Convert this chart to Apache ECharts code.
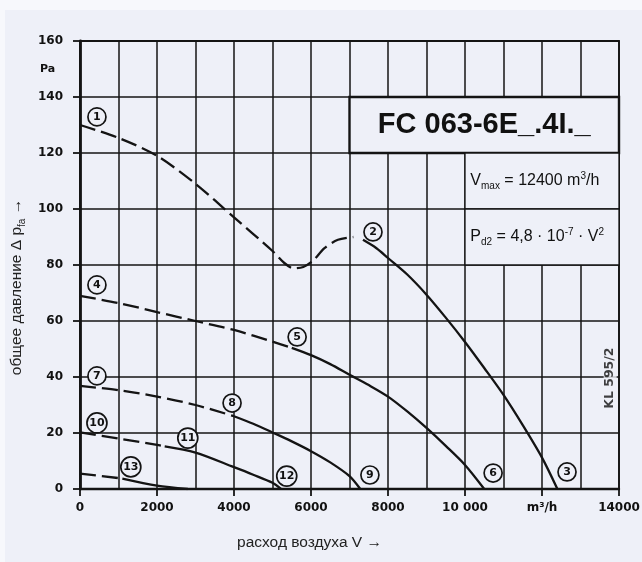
<!DOCTYPE html>
<html><head><meta charset="utf-8">
<script src="https://cdn.jsdelivr.net/npm/echarts@6/dist/echarts.min.js"></script>
<style>
html,body{margin:0;padding:0;background:#f7f8fc;width:642px;height:562px;overflow:hidden;}
#c{position:absolute;left:5px;top:10px;width:637px;height:552px;}
</style></head><body><div id="c"></div>
<script>
// ---------- data ----------
const xTickLabels = {0:'0',2000:'2000',4000:'4000',6000:'6000',8000:'8000',10000:'10 000',12000:'m³/h',14000:'14000'};
const yTickValues = [0,20,40,60,80,100,120,140,160];

// curve 1 -> 2 -> 3
const curveA_dashed = [[0,130],[1000,125.4],[2000,119],[3000,109],[4000,97],[5000,85],[5300,80.8],[5550,78.8],[5800,79.3],[6050,81.5],[6350,86],[6700,89],[7100,90]];
const curveA_solid  = [[7350,89],[7700,86],[8000,82.5],[8500,76.6],[9000,69.4],[9500,61.2],[10000,52.5],[10500,43.2],[11000,33.6],[11500,22.8],[12000,11.2],[12400,0]];
// curve 4 -> 5 -> 6
const curveB_dashed = [[0,69],[1000,66.4],[2000,63.2],[3000,60],[4000,56.8],[5000,52.6],[5500,50.4]];
const curveB_solid  = [[5500,50.4],[6000,47.8],[6500,44.6],[7000,40.8],[7500,37.1],[8000,33],[8500,27.7],[9000,21.8],[9500,15.4],[10000,8.6],[10500,0]];
// curve 7 -> 8 -> 9
const curveC_dashed = [[0,36.8],[1000,35.3],[2000,33],[3000,30],[4000,26]];
const curveC_solid  = [[4000,26],[4500,23.3],[5000,20.2],[5500,17],[6000,13.5],[6500,9.5],[7000,4.6],[7280,0]];
// curve 10 -> 11 -> 12
const curveD_dashed = [[0,20.2],[1000,18],[2000,15.8],[2200,15.2]];
const curveD_solid  = [[2200,15.2],[3000,13],[4000,7.8],[4500,5.1],[5000,2.2],[5220,0]];
// curve 13
const curveE_dashed = [[0,5.5],[1000,3.9],[1100,3.7]];
const curveE_solid  = [[1100,3.7],[2000,1.2],[2800,0]];

// circled curve numbers [x, y, text]
const curveMarkers = [[440,132.9,'1'],[7610,91.8,'2'],[12650,6.1,'3'],[440,72.9,'4'],[5640,54.3,'5'],[10730,5.7,'6'],[440,40.4,'7'],[3950,30.7,'8'],[7530,5,'9'],[440,23.6,'10'],[2800,18.2,'11'],[5370,4.6,'12'],[1320,7.9,'13']];

const titleText = 'FC 063-6E_.4I._';
const vmaxText = '{n|V}{s|max}{n| = 12400 m}{p|3}{n|/h}';
const pd2Text = '{n|P}{s|d2}{n| = 4,8 · 10}{p|-7}{n| · V}{p|2}';
const codeText = 'KL 595/2';
const codePos = [13770, 39.6];
const unitY = 'Pa';
const unitYAt = 150;
const xName = 'расход воздуха V →';
const yName = 'общее давление Δ p{sub|fa} →';

// ---------- chart ----------
const BG = '#eef0f8';
const INK = '#141414';
const chart = echarts.init(document.getElementById('c'));
const lineCommon = (data, dashed) => ({
  type:'line', data, smooth:0.3, symbol:'none', silent:true, z:3,
  xAxisIndex:0, yAxisIndex:0,
  lineStyle:{color:INK, width:2.3, type: dashed ? [16,6] : 'solid', cap:'butt'}
});
const FF = 'Liberation Sans, Arial';
const richText = {
  n:{fontSize:16, lineHeight:22, color:'#111', fontFamily:FF},
  s:{fontSize:10, lineHeight:10, padding:[10,0,0,0], color:'#111', fontFamily:FF},
  p:{fontSize:10, lineHeight:10, padding:[0,0,9,0], color:'#111', fontFamily:FF}
};
const option = {
  backgroundColor: BG,
  animation:false,
  grid:{left:75, top:31, right:23, bottom:73, outerBoundsMode:'none', containLabel:false,
    show:true, borderColor:INK, borderWidth:1.8, backgroundColor:'transparent'},
  xAxis:[{
    type:'value', min:0, max:14000, interval:2000,
    axisLine:{show:true, onZero:false, lineStyle:{color:INK, width:2.4}},
    axisTick:{show:true, length:7, lineStyle:{color:INK, width:1.8}},
    axisLabel:{margin:13, fontSize:12, fontWeight:'bold', color:'#111', fontFamily:'DejaVu Sans',
      formatter:v => xTickLabels[v] !== undefined ? xTickLabels[v] : ''},
    splitLine:{show:false},
    name:xName, nameLocation:'middle', nameGap:46,
    nameTextStyle:{fontSize:15.5, color:'#222', fontFamily:FF, padding:[0,80,0,0]}
  },{
    type:'value', min:0, max:14000, interval:1000, position:'bottom',
    axisLine:{show:false}, axisTick:{show:false}, axisLabel:{show:false},
    splitLine:{show:true, lineStyle:{color:INK, width:1.5}}
  }],
  yAxis:{
    type:'value', min:0, max:160, interval:20,
    axisLine:{show:true, onZero:false, lineStyle:{color:INK, width:2.8}},
    axisTick:{show:true, length:7, lineStyle:{color:INK, width:1.8}},
    axisLabel:{margin:17, fontSize:12, fontWeight:'bold', color:'#111', fontFamily:'DejaVu Sans',
      formatter:v => yTickValues.includes(v) ? String(v) : ''},
    splitLine:{show:true, lineStyle:{color:INK, width:1.5}},
    name:yName, nameLocation:'middle', nameGap:49, nameRotate:90,
    nameTextStyle:{fontSize:15.5, color:'#222', fontFamily:FF, padding:[0,44,0,0],
      rich:{sub:{fontSize:10, lineHeight:10, padding:[10,0,0,0], color:'#222', fontFamily:FF}}}
  },
  series:[
    lineCommon(curveA_dashed,true), lineCommon(curveA_solid,false),
    lineCommon(curveB_dashed,true), lineCommon(curveB_solid,false),
    lineCommon(curveC_dashed,true), lineCommon(curveC_solid,false),
    lineCommon(curveD_dashed,true), lineCommon(curveD_solid,false),
    lineCommon(curveE_dashed,true), lineCommon(curveE_solid,false),
    {
      type:'scatter', silent:true, z:5,
      data: curveMarkers.map(m => ({value:[m[0],m[1]], name:m[2], symbolSize: m[2].length>1 ? 20 : 18})),
      itemStyle:{color:BG, borderColor:INK, borderWidth:1.7, opacity:1},
      label:{show:true, position:'inside', formatter:p => p.name, fontSize:11, fontWeight:'bold', color:'#111', fontFamily:'DejaVu Sans'},
      markArea:{
        silent:true,
        data:[
          [{coord:[7000,120], itemStyle:{color:BG, borderColor:INK, borderWidth:2.4},
            label:{show:true, position:'inside', formatter:titleText, fontSize:29, fontWeight:'bold', color:'#111', fontFamily:FF}},
           {coord:[14000,140]}],
          [{coord:[10000,100], itemStyle:{color:BG, borderColor:INK, borderWidth:1.3},
            label:{show:true, position:'insideLeft', distance:6, formatter:vmaxText, rich:richText}},
           {coord:[14000,120]}],
          [{coord:[10000,80], itemStyle:{color:BG, borderColor:INK, borderWidth:1.3},
            label:{show:true, position:'insideLeft', distance:6, formatter:pd2Text, rich:richText}},
           {coord:[14000,100]}]
        ]
      }
    },
    {
      type:'scatter', silent:true, z:6, symbolSize:0,
      data:[{value:codePos}],
      label:{show:true, position:'inside', rotate:90, formatter:codeText, fontSize:12.5, fontWeight:'bold', color:'#111',
        fontFamily:'DejaVu Sans', backgroundColor:BG, padding:[0,4]}
    }
  ]
};
chart.setOption(option);
const pa = chart.convertToPixel({gridIndex:0}, [0, unitYAt]);
chart.setOption({graphic:[{type:'text', x:pa[0]-40, y:pa[1], silent:true,
  style:{text:unitY, fontSize:11, fontWeight:'bold', fill:'#111', fontFamily:'DejaVu Sans', verticalAlign:'middle', align:'left'}}]});
</script></body></html>
